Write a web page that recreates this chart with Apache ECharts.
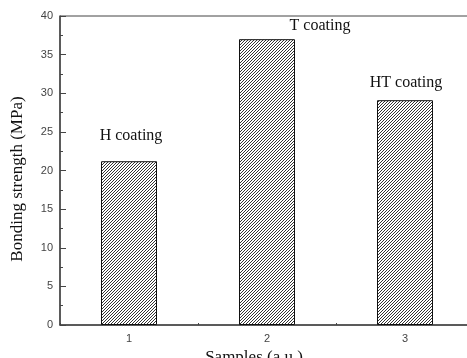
<!DOCTYPE html>
<html>
<head>
<meta charset="utf-8">
<script src="https://cdn.jsdelivr.net/npm/echarts@6/dist/echarts.min.js"></script>
<style>
  html, body { margin: 0; padding: 0; background: #fff; }
  #chart { width: 467px; height: 358px; }
</style>
</head>
<body>
<div id="chart"></div>
<script>
const samples = [1, 2, 3];
const strength = [21.2, 37.0, 29.1];
const coatingNames = ['H coating', 'T coating', 'HT coating'];
const yTicks = [0, 5, 10, 15, 20, 25, 30, 35, 40];

// diagonal hatch like the origin plot fill
const hatch = (() => {
    const c = document.createElement('canvas');
    c.width = 3;
    c.height = 3;
    const ctx = c.getContext('2d');
    ctx.fillStyle = '#fff';
    ctx.fillRect(0, 0, 3, 3);
    ctx.strokeStyle = '#333';
    ctx.lineWidth = 1;
    ctx.beginPath();
    ctx.moveTo(-1, 4); ctx.lineTo(4, -1);
    ctx.moveTo(-1, 1); ctx.lineTo(1, -1);
    ctx.moveTo(2, 4); ctx.lineTo(4, 2);
    ctx.stroke();
    return c;
})();

const labelSpots = [
    { distance: 17, offset: [2, 0] },
    { distance: 5, offset: [53, 0] },
    { distance: 9, offset: [1, 0] }
];

const serif = '"Liberation Serif", "DejaVu Serif", serif';
const sans = '"Liberation Sans", Arial, sans-serif';

const chart = echarts.init(document.getElementById('chart'));
chart.setOption({
    animation: false,
    grid: {
        left: 60, top: 16, right: -7, bottom: 33,
        outerBoundsMode: 'none',
        show: true, borderColor: '#444', borderWidth: 1
    },
    graphic: [{
        type: 'text',
        x: 18,
        y: 179,
        rotation: Math.PI / 2,
        style: {
            text: 'Bonding strength (MPa)',
            fontFamily: serif,
            fontSize: 17,
            fill: '#111',
            align: 'center',
            verticalAlign: 'middle'
        }
    }],
    xAxis: {
        type: 'value',
        min: 0.5,
        max: 3.5,
        interval: 0.5,
        name: 'Samples (a.u.)',
        nameLocation: 'middle',
        nameGap: 20,
        nameTextStyle: { fontFamily: serif, fontSize: 17, color: '#111', padding: [0, 26, 0, 0] },
        axisLine: { lineStyle: { color: '#444', width: 1.5 } },
        axisTick: { inside: true, length: 2, lineStyle: { color: '#444' } },
        axisLabel: {
            fontFamily: sans, fontSize: 11, color: '#444', margin: 8,
            formatter: (v) => (samples.indexOf(v) >= 0 ? String(v) : '')
        },
        splitLine: { show: false }
    },
    yAxis: {
        type: 'value',
        min: yTicks[0],
        max: yTicks[yTicks.length - 1],
        interval: 5,
        axisLine: { show: true, lineStyle: { color: '#444', width: 1.5 } },
        axisTick: { inside: true, length: 6, lineStyle: { color: '#444' } },
        minorTick: { show: true, splitNumber: 2, length: 3, lineStyle: { color: '#444' } },
        axisLabel: { fontFamily: sans, fontSize: 11, color: '#444', margin: 7 },
        splitLine: { show: false }
    },
    series: [{
        type: 'bar',
        barWidth: 56,
        data: samples.map((s, i) => ({
            value: [s, strength[i]],
            label: {
                show: true,
                position: 'top',
                distance: labelSpots[i].distance,
                offset: labelSpots[i].offset,
                formatter: coatingNames[i],
                fontFamily: serif,
                fontSize: 16,
                color: '#111'
            }
        })),
        itemStyle: {
            color: { image: hatch, repeat: 'repeat' },
            borderColor: '#111',
            borderWidth: 1
        }
    }]
});
</script>
</body>
</html>
